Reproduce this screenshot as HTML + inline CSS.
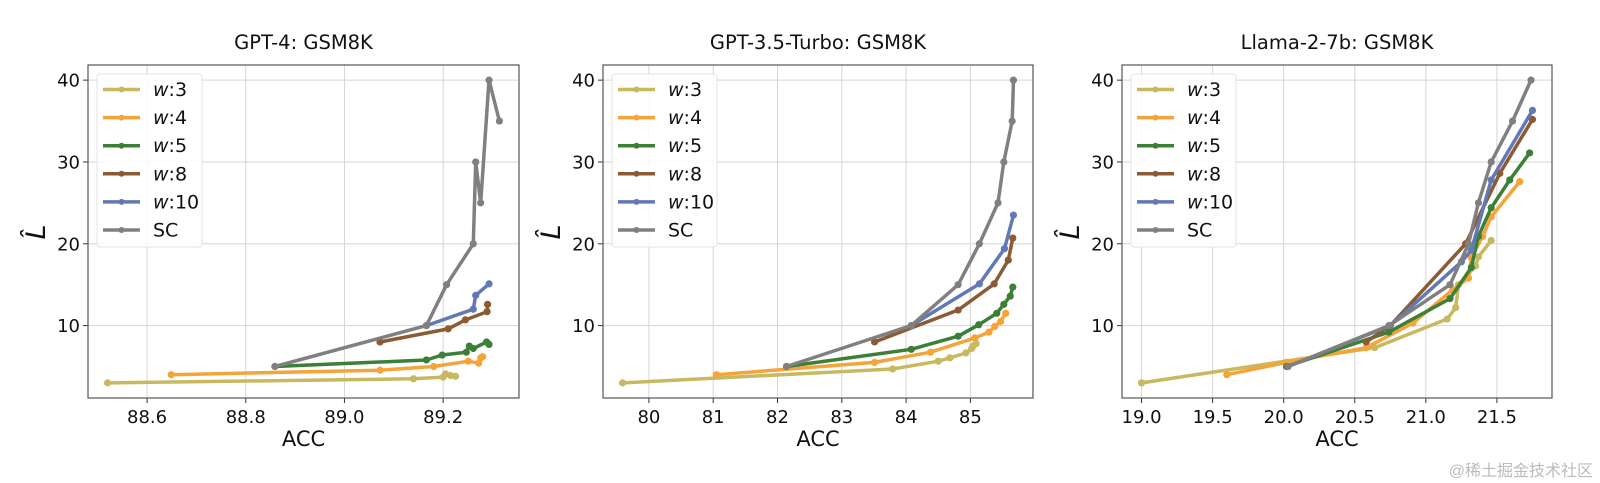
<!DOCTYPE html>
<html><head><meta charset="utf-8">
<style>
html,body{margin:0;padding:0;background:#fff;width:1600px;height:483px;overflow:hidden}
svg{display:block;font-family:"DejaVu Sans","Liberation Sans",sans-serif}
</style></head>
<body>
<svg id="chart" width="1600" height="483" viewBox="0 0 1600 483" xmlns="http://www.w3.org/2000/svg">
<text x="1593" y="476" text-anchor="end" font-size="16" fill="#bbb" font-family="'Liberation Sans','Noto Sans CJK SC',sans-serif">@稀土掘金技术社区</text>
</svg>
<script>
const seriesNames = ["w:3","w:4","w:5","w:8","w:10","SC"];
const seriesColors = ["#c8b860","#f5a43a","#3c7f36","#8c5b33","#6279b5","#808080"];
const panelTitles = ["GPT-4: GSM8K","GPT-3.5-Turbo: GSM8K","Llama-2-7b: GSM8K"];
const yTicks = [10,20,30,40];
const xTicks1 = [88.6,88.8,89.0,89.2];
const xTicks2 = [80,81,82,83,84,85];
const xTicks3 = [19.0,19.5,20.0,20.5,21.0,21.5];

// Panel 1 (GPT-4)
const p1x = [
 [88.52,89.14,89.20,89.205,89.215,89.225],
 [88.649,89.072,89.181,89.251,89.272,89.276,89.28],
 [88.859,89.166,89.198,89.247,89.253,89.261,89.288,89.293],
 [89.072,89.21,89.245,89.289,89.29],
 [89.166,89.261,89.266,89.293],
 [88.859,89.166,89.207,89.261,89.266,89.276,89.293,89.314]];
const p1y = [
 [3.0,3.5,3.7,4.1,3.9,3.8],
 [4.0,4.55,5.0,5.65,5.4,6.05,6.2],
 [5.0,5.8,6.4,6.75,7.5,7.2,8.0,7.7],
 [8.0,9.6,10.7,11.7,12.6],
 [10.0,12.0,13.7,15.1],
 [5.0,10.0,15.0,20.0,30.0,25.0,40.0,35.0]];
// Panel 2 (GPT-3.5)
const p2x = [
 [79.59,83.79,84.50,84.68,84.93,85.02,85.04,85.09],
 [81.05,83.51,84.38,85.07,85.29,85.38,85.47,85.55],
 [82.14,84.08,84.81,85.13,85.41,85.52,85.62,85.66],
 [83.51,84.81,85.37,85.59,85.66],
 [84.08,85.14,85.53,85.67],
 [82.14,84.08,84.81,85.14,85.43,85.52,85.65,85.67]];
const p2y = [
 [3.0,4.7,5.65,6.05,6.65,7.2,7.5,7.8],
 [4.0,5.5,6.75,8.5,9.2,9.9,10.5,11.5],
 [5.0,7.1,8.7,10.1,11.5,12.6,13.6,14.7],
 [8.0,11.9,15.1,18.0,20.7],
 [10.0,15.1,19.4,23.5],
 [5.0,10.0,15.0,20.0,25.0,30.0,35.0,40.0]];
// Panel 3 (Llama-2-7b)
const p3x = [
 [19.0,20.64,21.15,21.21,21.23,21.35,21.37,21.46],
 [19.6,20.02,20.58,20.91,21.19,21.30,21.32,21.40,21.46,21.66],
 [20.02,20.74,21.17,21.32,21.37,21.46,21.59,21.73],
 [20.58,20.75,21.28,21.52,21.75],
 [20.03,20.75,21.25,21.32,21.46,21.75],
 [20.03,20.74,21.17,21.30,21.37,21.46,21.61,21.74]];
const p3y = [
 [3.0,7.3,10.8,12.2,15.0,17.3,18.4,20.4],
 [4.0,5.5,7.3,10.3,14.4,15.8,18.3,20.9,23.3,27.6],
 [5.0,9.2,13.3,17.1,20.9,24.4,27.8,31.1],
 [8.0,10.0,20.0,28.6,35.2],
 [5.0,10.0,17.8,19.2,27.8,36.3],
 [5.0,10.0,15.0,20.0,25.0,30.0,35.0,40.0]];

const NS = "http://www.w3.org/2000/svg";
const svg = document.getElementById('chart');
function mk(tag, attrs, parent){
  const e = document.createElementNS(NS, tag);
  for (const k in attrs) e.setAttribute(k, attrs[k]);
  (parent||svg).appendChild(e);
  return e;
}
const panels = [
 {left:88, right:519, xs:p1x, ys:p1y, ticks:xTicks1, dec:1, ylabX:36, slug:'gpt4'},
 {left:603, right:1033, xs:p2x, ys:p2y, ticks:xTicks2, dec:0, ylabX:551, slug:'gpt35'},
 {left:1122, right:1552, xs:p3x, ys:p3y, ticks:xTicks3, dec:1, ylabX:1070, slug:'llama'}];
const TOP = 65, BOT = 398;

panels.forEach((p, pi) => {
  let mn = Infinity, mx = -Infinity, ymn = Infinity, ymx = -Infinity;
  p.xs.forEach(a => a.forEach(v => {mn = Math.min(mn, v); mx = Math.max(mx, v);}));
  p.ys.forEach(a => a.forEach(v => {ymn = Math.min(ymn, v); ymx = Math.max(ymx, v);}));
  const xm = (mx - mn) * 0.05, ym = (ymx - ymn) * 0.05;
  const x0 = mn - xm, x1 = mx + xm, y0 = ymn - ym, y1 = ymx + ym;
  const X = v => p.left + (v - x0) / (x1 - x0) * (p.right - p.left);
  const Y = v => BOT - (v - y0) / (y1 - y0) * (BOT - TOP);
  const g = mk('g', {});
  
  
  const cx = (p.left + p.right) / 2;
  const t = mk('text', {x:cx, y:49, 'text-anchor':'middle', 'font-size':19.5, fill:'#111'}, g);
  t.textContent = panelTitles[pi];
  
  
  p.ticks.forEach(v => {
    const gx = mk('line', {x1:X(v), x2:X(v), y1:TOP, y2:BOT, stroke:'#d6d6d6', 'stroke-width':1}, g);
    
    
    mk('line', {x1:X(v), x2:X(v), y1:BOT, y2:BOT+5, stroke:'#333', 'stroke-width':1}, g);
    const tl = mk('text', {x:X(v), y:BOT+25, 'text-anchor':'middle', 'font-size':18, fill:'#111'}, g);
    tl.textContent = v.toFixed(p.dec);
    
    
  });
  yTicks.forEach(v => {
    const gy = mk('line', {x1:p.left, x2:p.right, y1:Y(v), y2:Y(v), stroke:'#d6d6d6', 'stroke-width':1}, g);
    
    
    mk('line', {x1:p.left-5, x2:p.left, y1:Y(v), y2:Y(v), stroke:'#333', 'stroke-width':1}, g);
    const tl = mk('text', {x:p.left-8, y:Y(v)+6.5, 'text-anchor':'end', 'font-size':18, fill:'#111'}, g);
    tl.textContent = v;
    
    
  });
  p.xs.forEach((xa, si) => {
    const sg = mk('g', {}, g);
    
    
    const pts = xa.map((v, i) => X(v).toFixed(1) + ',' + Y(p.ys[si][i]).toFixed(1)).join(' ');
    const pl = mk('polyline', {points:pts, fill:'none', stroke:seriesColors[si], 'stroke-width':3.5, 'stroke-linejoin':'round', 'stroke-linecap':'round'}, sg);
    
    
    xa.forEach((v, i) => {
      const c = mk('circle', {cx:X(v), cy:Y(p.ys[si][i]), r:3.6, fill:seriesColors[si]}, sg);
      
      
    });
  });
  const fr = mk('rect', {x:p.left, y:TOP, width:p.right-p.left, height:BOT-TOP, fill:'none', stroke:'#555', 'stroke-width':1.2}, g);
  
  
  const lg = mk('g', {}, g);
  
  
  const lx = p.left + 9;
  mk('rect', {x:lx, y:74, width:105, height:173, rx:3, fill:'#fff', 'fill-opacity':0.85, stroke:'#e3e3e3', 'stroke-width':1}, lg);
  seriesNames.forEach((n, si) => {
    const ly = 89.5 + si * 28.1;
    const e = mk('g', {}, lg);
    
    
    mk('line', {x1:lx+6, x2:lx+43, y1:ly, y2:ly, stroke:seriesColors[si], 'stroke-width':3.5}, e);
    mk('circle', {cx:lx+24.5, cy:ly, r:3, fill:seriesColors[si]}, e);
    const tx = mk('text', {x:lx+56, y:ly+6.5, 'font-size':19, fill:'#111'}, e);
    if (n.startsWith('w:')) {
      const it = mk('tspan', {'font-style':'italic'}, tx); it.textContent = 'w';
      const rest = mk('tspan', {}, tx); rest.textContent = n.slice(1);
    } else tx.textContent = n;
  });
  const xl = mk('text', {x:cx, y:446, 'text-anchor':'middle', 'font-size':21, fill:'#111'}, g);
  xl.textContent = 'ACC';
  
  
  const yl = mk('text', {x:0, y:0, 'text-anchor':'middle', 'font-size':27, 'font-style':'italic', fill:'#111', transform:'translate(' + (p.ylabX+9) + ',232) rotate(-90)'}, g);
  yl.textContent = 'L\u0302';
  
  
});
</script>
</body></html>
